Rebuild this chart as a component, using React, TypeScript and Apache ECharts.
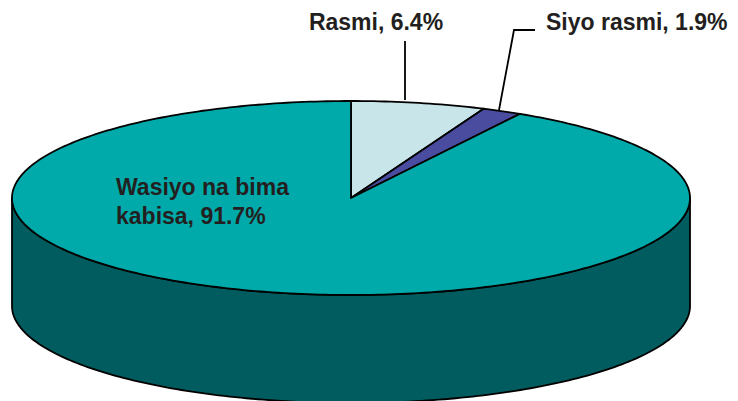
import React, { useEffect, useRef } from "react";
import * as echarts from "echarts";

const categories = ["Rasmi", "Siyo rasmi", "Wasiyo na bima kabisa"];
const values = [6.4, 1.9, 91.7];
const topColors = ["#C8E6EA", "#4A4CA0", "#00AAAA"];
const sideColors = ["#8FB8BC", "#2E2F70", "#005C5E"];
const labelTexts = ["Rasmi, 6.4%", "Siyo rasmi, 1.9%", "Wasiyo na bima\nkabisa, 91.7%"];

export default function App() {
  const ref = useRef<HTMLDivElement>(null);
  useEffect(() => {
    document.body.style.margin = "0";
    const chart = echarts.init(ref.current!, null, { renderer: "svg" });
    const total = values.reduce((a, b) => a + b, 0);
    const cum: number[] = [];
    let acc = 0;
    values.forEach((v) => {
      cum.push(acc);
      acc += v;
    });
    const cx = 351;
    const cy = 198;
    const rx = 339;
    const ry = 97;
    const depth = 108;
    const pt = (deg: number, dy = 0) => {
      const r = (deg * Math.PI) / 180;
      return [cx + rx * Math.sin(r), cy - ry * Math.cos(r) + dy];
    };
    const arc = (a0: number, a1: number, dy = 0) => {
      const pts: number[][] = [];
      const n = Math.max(2, Math.ceil(Math.abs(a1 - a0) / 1));
      for (let i = 0; i <= n; i++) pts.push(pt(a0 + ((a1 - a0) * i) / n, dy));
      return pts;
    };
    const font = "Liberation Sans, Arial, Helvetica, sans-serif";
    const textStyle = { fontSize: 23, fontWeight: "bold", fontFamily: font, fill: "#231F20" };
    const lw = 1.8;

    chart.setOption({
      animation: false,
      series: [
        {
          type: "custom",
          coordinateSystem: "none",
          z: 2,
          data: values.map((v, i) => ({ name: categories[i], value: v })),
          renderItem: (params: any, api: any) => {
            const i = params.dataIndex;
            const a0 = (cum[i] / total) * 360;
            const a1 = ((cum[i] + values[i]) / total) * 360;
            const children: any[] = [];
            const s0 = Math.max(a0, 90);
            const s1 = Math.min(a1, 270);
            if (s1 > s0) {
              const topArc = arc(s0, s1);
              const botArc = arc(s1, s0, depth);
              children.push({
                type: "polygon",
                shape: { points: topArc.concat(botArc) },
                style: { fill: sideColors[i], stroke: "#000", lineWidth: lw, lineJoin: "round" },
              });
            }
            children.push({
              type: "polygon",
              shape: { points: [[cx, cy]].concat(arc(a0, a1)) },
              style: { fill: topColors[i], stroke: "#000", lineWidth: lw, lineJoin: "round" },
            });
            return { type: "group", children };
          },
        },
      ],
      graphic: [
        { type: "line", z: 100, shape: { x1: 405, y1: 41, x2: 405, y2: 100 }, style: { stroke: "#000", lineWidth: lw } },
        {
          type: "polyline",
          z: 100,
          shape: { points: [[499, 110], [514, 30], [535, 30]] },
          style: { stroke: "#000", lineWidth: lw, fill: "none" },
        },
        {
          type: "text",
          z: 100,
          x: 376,
          y: 22,
          style: { ...textStyle, text: labelTexts[0], align: "center", verticalAlign: "middle" },
        },
        {
          type: "text",
          z: 100,
          x: 546,
          y: 22,
          style: { ...textStyle, text: labelTexts[1], align: "left", verticalAlign: "middle" },
        },
        {
          type: "text",
          z: 100,
          x: 116,
          y: 201,
          style: { ...textStyle, text: labelTexts[2], align: "left", verticalAlign: "middle", lineHeight: 29 },
        },
      ],
    });
    return () => chart.dispose();
  }, []);
  return <div ref={ref} style={{ width: 738, height: 401 }} />;
}
